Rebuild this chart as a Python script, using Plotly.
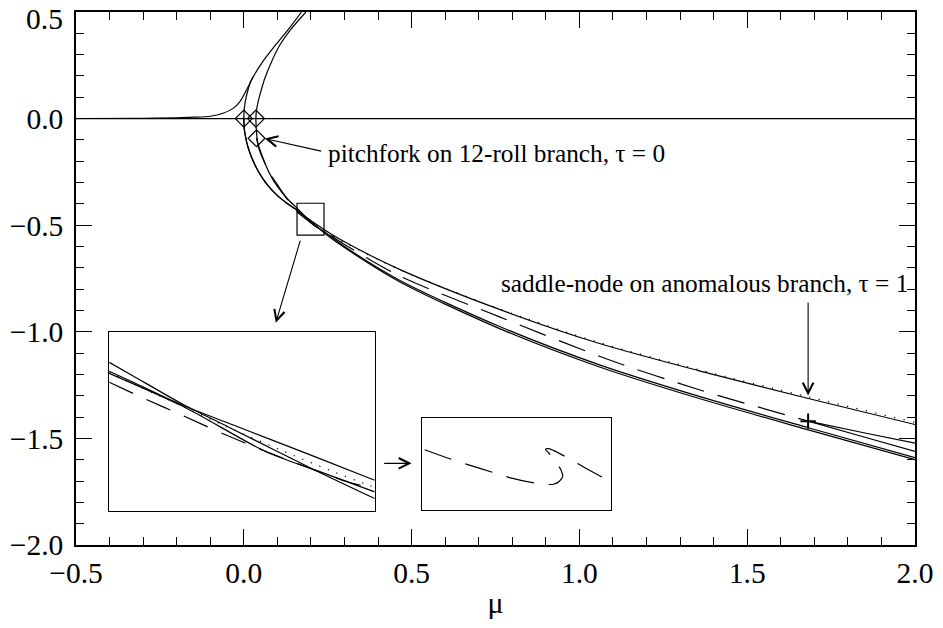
import plotly.graph_objects as go

# ---------------- main diagram: amplitude vs mu ----------------
mu_trivial = [-0.5, 2.0]
amp_trivial = [0.0, 0.0]

# imperfect (tau = 1) upper branch
mu_imperfect = [-0.5, -0.3, -0.2, -0.15, -0.1, -0.062, -0.032, -0.012, 0.008, 0.028, 0.057, 0.097, 0.137, 0.172]
amp_imperfect = [0.0005, 0.0015, 0.004, 0.0065, 0.011, 0.025, 0.048, 0.079, 0.134, 0.196, 0.268, 0.35, 0.427, 0.5]

# upper pitchfork branch from mu = 0
mu_up0 = [0.0, 0.001, 0.003, 0.006, 0.01, 0.015, 0.02, 0.028]
amp_up0 = [0.0, 0.038, 0.066, 0.093, 0.12, 0.148, 0.172, 0.196]

# upper pitchfork branch from the second bifurcation
mu_up1 = [0.036, 0.037, 0.040, 0.048, 0.0625, 0.0824, 0.107, 0.142, 0.185]
amp_up1 = [0.0, 0.03, 0.06, 0.111, 0.188, 0.266, 0.344, 0.422, 0.5]

# lower branch B (solid, ends on top at mu = 2)
mu_b = [0.0, 0.001, 0.003, 0.008, 0.015, 0.023, 0.0425, 0.07, 0.10, 0.13, 0.16, 0.1823, 0.2225, 0.24,
        0.30, 0.464, 0.762, 1.06, 1.357, 1.682, 2.0]
amp_b = [0.0, -0.038, -0.065, -0.107, -0.145, -0.180, -0.245, -0.31, -0.36, -0.398, -0.430, -0.4588, -0.5025, -0.5214,
         -0.578, -0.707, -0.895, -1.055, -1.183, -1.313, -1.435]

# lower branch A (solid, ends lowest at mu = 2)
mu_a = [0.036, 0.0368, 0.038, 0.0395, 0.042, 0.0574, 0.077, 0.10, 0.13, 0.16, 0.1823, 0.2074, 0.24,
        0.30, 0.464, 0.762, 1.06, 1.357, 1.682, 2.0]
amp_a = [0.0, -0.04, -0.065, -0.092, -0.115, -0.186, -0.258, -0.318, -0.376, -0.4226, -0.4579, -0.4922, -0.5367,
         -0.605, -0.765, -0.985, -1.165, -1.313, -1.46, -1.60]

# lower branch C (solid, runs close to A further out)
mu_c = [0.0, 0.001, 0.003, 0.008, 0.015, 0.023, 0.0425, 0.07, 0.10, 0.13, 0.16, 0.1823, 0.2074, 0.24,
        0.30, 0.464, 0.762, 1.06, 1.357, 1.682, 2.0]
amp_c = [0.0, -0.039, -0.066, -0.108, -0.146, -0.181, -0.246, -0.311, -0.361, -0.399, -0.4318, -0.4596, -0.4977, -0.5311,
         -0.60, -0.758, -0.975, -1.155, -1.303, -1.45, -1.59]

# dotted branch
mu_dot = [0.0, 0.001, 0.003, 0.008, 0.015, 0.023, 0.0425, 0.07, 0.10, 0.13, 0.16, 0.169, 0.1805, 0.1975, 0.212,
          0.2265, 0.2383, 0.30, 0.464, 0.762, 1.06, 1.357, 1.682, 2.0]
amp_dot = [0.0, -0.04, -0.067, -0.109, -0.147, -0.182, -0.247, -0.312, -0.362, -0.40, -0.431, -0.4429, -0.4574, -0.4791,
           -0.4964, -0.5131, -0.5256, -0.582, -0.708, -0.893, -1.051, -1.178, -1.305, -1.425]

# dashed branch (from the 12-roll pitchfork to the saddle-node)
mu_dash = [0.038, 0.045, 0.06, 0.08, 0.10, 0.13, 0.16, 0.1697, 0.1821, 0.1943, 0.2069, 0.2194, 0.232, 0.24,
           0.30, 0.464, 0.762, 1.086, 1.357, 1.682]
amp_dash = [-0.092, -0.14, -0.20, -0.262, -0.31, -0.38, -0.4393, -0.4518, -0.4671, -0.4824, -0.4969, -0.5103, -0.5228, -0.5284,
            -0.59, -0.738, -0.93, -1.13, -1.272, -1.419]

# branches leaving the saddle-node
mu_sn1 = [1.682, 1.84, 2.0]
amp_sn1 = [-1.419, -1.49, -1.561]
mu_sn2 = [1.682, 1.84, 2.0]
amp_sn2 = [-1.419, -1.471, -1.522]

# bifurcation points
mu_pitch = [0.0, 0.036, 0.038]
amp_pitch = [0.0, 0.0, -0.092]
mu_saddle = [1.6815]
amp_saddle = [-1.419]

# magnified window drawn on the main diagram
zoom_box_mu = [0.1586, 0.239]
zoom_box_amp = [-0.547, -0.397]

# axis ticks
x_ticks = [-0.5, 0.0, 0.5, 1.0, 1.5, 2.0]
y_ticks = [-2.0, -1.5, -1.0, -0.5, 0.0, 0.5]

# ---------------- first magnification ----------------
mu_in_a = [0.16, 0.1672, 0.1823, 0.1974, 0.2225, 0.24]
amp_in_a = [-0.4226, -0.4340, -0.4579, -0.4788, -0.5136, -0.5367]
mu_in_b = [0.16, 0.1672, 0.1823, 0.1974, 0.2225, 0.24]
amp_in_b = [-0.4301, -0.4393, -0.4588, -0.4751, -0.5022, -0.5214]
mu_in_c = [0.16, 0.1823, 0.2074, 0.2224, 0.24]
amp_in_c = [-0.4318, -0.4596, -0.4977, -0.5131, -0.5311]
mu_in_dot = [0.16, 0.169, 0.1805, 0.1975, 0.212, 0.2265, 0.2383, 0.24]
amp_in_dot = [-0.4310, -0.4429, -0.4574, -0.4791, -0.4964, -0.5131, -0.5256, -0.5270]
mu_in_dash = [0.16, 0.1697, 0.1821, 0.1943, 0.2069, 0.2194, 0.232, 0.24]
amp_in_dash = [-0.4393, -0.4518, -0.4671, -0.4824, -0.4969, -0.5103, -0.5228, -0.5284]

# ---------------- second magnification (around the saddle-node) ----------------
mu_fold = [1.67038, 1.67388, 1.67574, 1.67924, 1.68114, 1.68472, 1.6867, 1.68746, 1.68788, 1.68767, 1.68725,
           1.6867, 1.68611, 1.68569, 1.68611, 1.6867, 1.68907, 1.69075, 1.694]
amp_fold = [-1.41653, -1.41825, -1.41906, -1.42055, -1.42136, -1.4224, -1.42251, -1.42199, -1.42113, -1.42009, -1.41911,
            -1.41808, -1.4171, -1.41647, -1.41635, -1.41664, -1.41837, -1.41969, -1.42211]

FONT = "Liberation Serif"
INK = "black"
LW = 1.2
DASH = "28px,14px"
DOT = "1.2px,8.5px"

fig = go.Figure()


def curve(x, y, dash="solid", xa="x", ya="y", width=LW):
    fig.add_trace(go.Scatter(x=x, y=y, mode="lines", xaxis=xa, yaxis=ya,
                             line=dict(color=INK, width=width, dash=dash, shape="spline", smoothing=0.8),
                             hoverinfo="skip", showlegend=False))


curve(mu_trivial, amp_trivial)
curve(mu_imperfect, amp_imperfect)
curve(mu_up0, amp_up0)
curve(mu_up1, amp_up1)
curve(mu_b, amp_b)
curve(mu_a, amp_a)
curve(mu_c, amp_c)
curve(mu_dot, amp_dot, dash=DOT)
curve(mu_dash, amp_dash, dash=DASH)
curve(mu_sn1, amp_sn1)
curve(mu_sn2, amp_sn2)

fig.add_trace(go.Scatter(x=mu_pitch, y=amp_pitch, mode="markers",
                         marker=dict(symbol="diamond-open", size=13, color=INK, line=dict(color=INK, width=1.2)),
                         hoverinfo="skip", showlegend=False))
fig.add_trace(go.Scatter(x=mu_saddle, y=amp_saddle, mode="markers",
                         marker=dict(symbol="cross-thin", size=11, color=INK, line=dict(color=INK, width=2)),
                         hoverinfo="skip", showlegend=False))

# inset 1
curve(mu_in_a, amp_in_a, xa="x2", ya="y2")
curve(mu_in_b, amp_in_b, xa="x2", ya="y2")
curve(mu_in_c, amp_in_c, xa="x2", ya="y2")
curve(mu_in_dot, amp_in_dot, dash="1.2px,8px", xa="x2", ya="y2")
curve(mu_in_dash, amp_in_dash, dash="26px,15px", xa="x2", ya="y2")

# inset 2
curve(mu_fold, amp_fold, dash="28px,15px", xa="x3", ya="y3")

fig.add_shape(type="rect", xref="x", yref="y",
              x0=zoom_box_mu[0], x1=zoom_box_mu[1], y0=zoom_box_amp[0], y1=zoom_box_amp[1],
              line=dict(color=INK, width=1.2))

ann_font = dict(family=FONT, size=25.3, color=INK)


def arrow(x_tip, y_tip, x_tail, y_tail):
    fig.add_annotation(x=x_tip, y=y_tip, ax=x_tail, ay=y_tail, xref="x", yref="y", axref="x", ayref="y",
                       text="", showarrow=True, arrowhead=5, arrowsize=1.9, arrowwidth=1.1, arrowcolor=INK,
                       standoff=0, startstandoff=0)


arrow(0.0625, -0.0935, 0.235, -0.154)
arrow(1.6815, -1.299, 1.6815, -0.855)
arrow(0.0952, -0.958, 0.1696, -0.5654)
arrow(0.50, -1.617, 0.4137, -1.617)

fig.add_annotation(x=0.2443, y=-0.1636, xref="x", yref="y", xanchor="left", yanchor="middle",
                   text="pitchfork on 12-roll branch, \u03c4 = 0", showarrow=False, font=ann_font)
fig.add_annotation(x=1.985, y=-0.771, xref="x", yref="y", xanchor="right", yanchor="middle",
                   text="saddle-node on anomalous branch, \u03c4 = 1", showarrow=False, font=ann_font)

tick_font = dict(family=FONT, size=29.5, color=INK)

# the top y label sits just inside the figure edge
fig.add_annotation(x=0, y=y_ticks[-1], xref="paper", yref="y", xanchor="right", yanchor="middle",
                   xshift=-11, yshift=-7, text=f"{y_ticks[-1]:.1f}", showarrow=False, font=tick_font)

axis_common = dict(showgrid=False, zeroline=False, showline=True, linecolor=INK, linewidth=1.5,
                   mirror="ticks", ticks="inside", ticklen=16, tickwidth=1.2, tickcolor=INK,
                   tickfont=tick_font, tickformat=".1f",
                   minor=dict(ticks="inside", ticklen=8, tickwidth=1.0, tickcolor=INK, dtick=0.1, showgrid=False))

inset_common = dict(showgrid=False, zeroline=False, showline=True, linecolor=INK, linewidth=1.2,
                    mirror=True, ticks="", showticklabels=False)

fig.update_layout(
    width=943, height=628,
    margin=dict(l=76, r=27, t=10, b=83),
    paper_bgcolor="white", plot_bgcolor="white",
    font=dict(family=FONT, color=INK),
    xaxis=dict(range=[-0.5, 2.0], tickmode="array", tickvals=x_ticks, ticklabelstandoff=1,
               title=dict(text="\u03bc", font=dict(family=FONT, size=30, color=INK), standoff=4),
               **axis_common),
    yaxis=dict(range=[-2.0, 0.5], tickmode="array", tickvals=y_ticks[:-1], ticklabelstandoff=5,
               **axis_common),
    xaxis2=dict(domain=[0.0396, 0.356], range=[0.16, 0.24], anchor="y2", **inset_common),
    yaxis2=dict(domain=[0.0641, 0.40], range=[-0.547, -0.397], anchor="x2", **inset_common),
    xaxis3=dict(domain=[0.412, 0.6377], range=[1.670, 1.694], anchor="y3", **inset_common),
    yaxis3=dict(domain=[0.0654, 0.2387], range=[-1.427, -1.411], anchor="x3", **inset_common),
)

fig.write_html("out.html")
